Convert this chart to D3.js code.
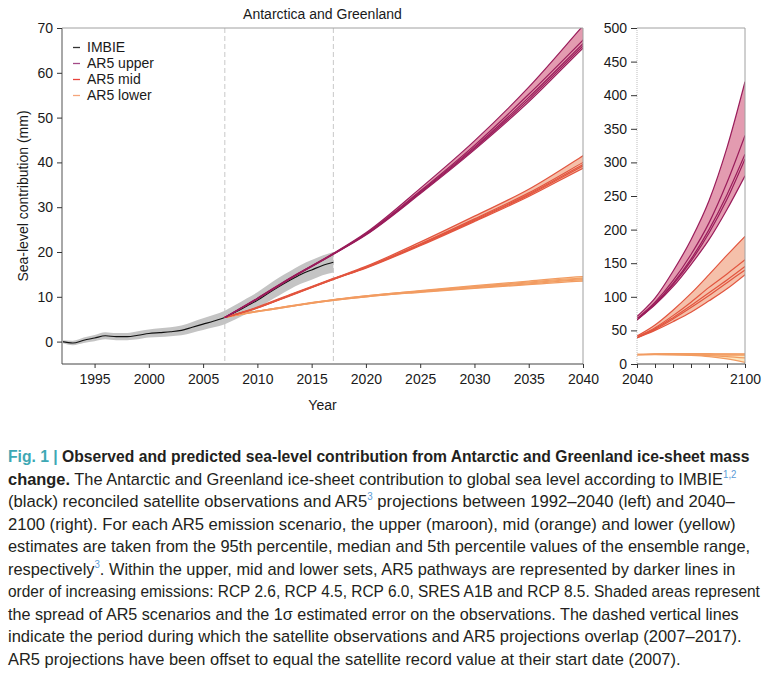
<!DOCTYPE html>
<html><head><meta charset="utf-8">
<script src="https://cdn.jsdelivr.net/npm/d3@7"></script>
<style>
body{margin:0;background:#fff;}
svg{display:block;font-family:"Liberation Sans",Arial,Helvetica,sans-serif;}
.cap{font-family:"Liberation Sans Narrow","Liberation Sans",Arial,sans-serif;font-size:17px;fill:#231f20;}
</style></head>
<body>
<svg id="c" width="769" height="678"></svg>
<script>
// ---------------- DATA ----------------
const imbieYears = d3.range(1992, 2018);
const imbieValues = [0, -0.3, 0.3, 0.8, 1.3, 1.1, 1.1, 1.4, 1.8, 2.0, 2.2, 2.5, 3.2, 3.9, 4.6, 5.4, 6.6, 7.9, 9.2, 10.8, 12.3, 13.7, 15.0, 16.0, 17.0, 17.7];
const imbieError = [0.3, 0.5, 0.6, 0.7, 0.8, 0.8, 0.8, 0.9, 0.9, 1.0, 1.0, 1.1, 1.2, 1.3, 1.4, 1.5, 1.6, 1.7, 1.8, 1.9, 2.0, 2.0, 2.1, 2.2, 2.2, 2.3];

const projYears = [2007, 2010, 2013, 2017, 2020, 2025, 2030, 2035, 2040, 2050, 2060, 2070, 2080, 2090, 2100];
const ar5Upper = [
  [5.4, 9.5, 14.0, 19.5, 23.8, 33.0, 42.8, 53.5, 65.5, 88, 115, 148, 185, 230, 280],
  [5.4, 9.5, 14.0, 19.5, 23.9, 33.2, 43.1, 54.0, 66.0, 89, 118, 153, 195, 245, 305],
  [5.4, 9.6, 14.1, 19.6, 24.0, 33.4, 43.4, 54.5, 66.5, 90, 120, 156, 200, 252, 312],
  [5.4, 9.6, 14.1, 19.6, 24.1, 33.6, 43.8, 55.2, 67.3, 92, 124, 163, 210, 270, 340],
  [5.4, 9.7, 14.2, 19.7, 24.3, 34.2, 44.8, 56.8, 70.5, 98, 138, 185, 243, 322, 420]
];
const ar5Mid = [
  [5.4, 7.5, 10.2, 13.9, 16.4, 21.4, 26.8, 32.4, 38.7, 50, 63, 77, 94, 112, 133],
  [5.4, 7.5, 10.3, 13.9, 16.5, 21.6, 27.0, 32.7, 39.2, 51.5, 67, 84, 102, 121, 140],
  [5.4, 7.6, 10.3, 14.0, 16.6, 21.7, 27.2, 32.9, 39.5, 52.5, 69, 87, 106, 125, 145],
  [5.4, 7.6, 10.4, 14.0, 16.6, 21.8, 27.4, 33.2, 40.0, 54, 72, 92, 114, 134, 155],
  [5.4, 7.7, 10.5, 14.1, 16.8, 22.2, 28.0, 34.0, 41.5, 58, 80, 105, 133, 162, 190]
];
const ar5Lower = [
  [5.4, 6.7, 7.8, 9.2, 10.0, 11.0, 11.9, 12.7, 13.5, 14.0, 13.7, 12.8, 11.0, 7.5, 2.5],
  [5.4, 6.7, 7.8, 9.2, 10.0, 11.1, 12.0, 12.9, 13.8, 14.2, 14.0, 13.4, 12.4, 11.0, 9.0],
  [5.4, 6.8, 7.9, 9.3, 10.1, 11.2, 12.2, 13.1, 14.0, 14.5, 14.6, 14.3, 13.8, 13.3, 13.0],
  [5.4, 6.8, 7.9, 9.3, 10.2, 11.3, 12.3, 13.3, 14.2, 14.8, 15.0, 15.0, 14.8, 14.6, 14.5],
  [5.4, 6.8, 8.0, 9.4, 10.2, 11.4, 12.5, 13.5, 14.5, 15.0, 15.3, 15.4, 15.3, 15.2, 15.0]
];
const leftYTicks = [0, 10, 20, 30, 40, 50, 60, 70];
const leftXTicks = [1995, 2000, 2005, 2010, 2015, 2020, 2025, 2030, 2035, 2040];
const rightYTicks = [0, 50, 100, 150, 200, 250, 300, 350, 400, 450, 500];
const rightXTicks = [2040, 2050, 2060, 2070, 2080, 2090, 2100];
const rightXLabels = [2040, 2100];
const overlapYears = [2007, 2017];
const legendLabels = ["IMBIE", "AR5 upper", "AR5 mid", "AR5 lower"];

// ---------------- STYLE ----------------
const sets = [
  {data: ar5Lower, fill: "#fde6bd", line: "#f29c62"},
  {data: ar5Mid, fill: "#f5c0aa", line: "#e2553f"},
  {data: ar5Upper, fill: "#e39bb0", line: "#9a1d5b"}
];
const legendColors = ["#333333", "#a44a87", "#e8433c", "#f5a57b"];

const svg = d3.select("#c");
const L = {x0: 62, x1: 583, y0: 28, y1: 364};
const R = {x0: 637, x1: 745, y0: 28, y1: 364};

const xL = d3.scaleLinear().domain([1992, 2040]).range([L.x0, L.x1]);
const yL = d3.scaleLinear().domain([-5, 70]).range([L.y1, L.y0]);
const xR = d3.scaleLinear().domain([2040, 2100]).range([R.x0, R.x1]);
const yR = d3.scaleLinear().domain([0, 500]).range([R.y1, R.y0]);

const defs = svg.append("defs");
defs.append("clipPath").attr("id", "clipL").append("rect")
  .attr("x", L.x0).attr("y", L.y0).attr("width", L.x1 - L.x0).attr("height", L.y1 - L.y0);
defs.append("clipPath").attr("id", "clipR").append("rect")
  .attr("x", R.x0).attr("y", R.y0).attr("width", R.x1 - R.x0).attr("height", R.y1 - R.y0);

function drawPanel(g, x, y) {
  sets.forEach(s => {
    const env = projYears.map((yr, i) => ({
      yr, lo: d3.min(s.data, d => d[i]), hi: d3.max(s.data, d => d[i])
    }));
    g.append("path").datum(env)
      .attr("d", d3.area().curve(d3.curveMonotoneX).x(d => x(d.yr)).y0(d => y(d.lo)).y1(d => y(d.hi)))
      .attr("fill", s.fill).attr("stroke", "none");
    s.data.forEach(series => {
      g.append("path").datum(series)
        .attr("d", d3.line().curve(d3.curveMonotoneX).x((d, i) => x(projYears[i])).y(d => y(d)))
        .attr("fill", "none").attr("stroke", s.line).attr("stroke-width", 1.2);
    });
  });
}

// ---------- left panel ----------
const gL = svg.append("g");
overlapYears.forEach(yr => {
  gL.append("line").attr("x1", xL(yr)).attr("x2", xL(yr)).attr("y1", L.y0).attr("y2", L.y1)
    .attr("stroke", "#c8c8c8").attr("stroke-dasharray", "5,3").attr("stroke-width", 1);
});
const pL = gL.append("g").attr("clip-path", "url(#clipL)");
const imbie = imbieYears.map((yr, i) => ({yr, v: imbieValues[i], e: imbieError[i]}));
pL.append("path").datum(imbie)
  .attr("d", d3.area().curve(d3.curveMonotoneX).x(d => xL(d.yr)).y0(d => yL(d.v - d.e)).y1(d => yL(d.v + d.e)))
  .attr("fill", "#c4c4c4");
pL.append("path").datum(imbie)
  .attr("d", d3.line().curve(d3.curveMonotoneX).x(d => xL(d.yr)).y(d => yL(d.v)))
  .attr("fill", "none").attr("stroke", "#111").attr("stroke-width", 1.1);
drawPanel(pL, xL, yL);

gL.append("path").attr("d", `M${L.x0},${L.y0}H${L.x1}V${L.y1}`)
  .attr("fill", "none").attr("stroke", "#a0a0a0").attr("stroke-width", 1);

const axL = gL.append("g").attr("transform", `translate(${L.x0},0)`)
  .call(d3.axisLeft(yL).tickValues(leftYTicks).tickSize(5).tickPadding(4).tickFormat(d3.format("d")));
const axB = gL.append("g").attr("transform", `translate(0,${L.y1})`)
  .call(d3.axisBottom(xL).tickValues(leftXTicks).tickSize(4).tickPadding(6).tickFormat(d3.format("d")));

// ---------- right panel ----------
const gR = svg.append("g");
const pR = gR.append("g").attr("clip-path", "url(#clipR)");
drawPanel(pR, xR, yR);
gR.append("path").attr("d", `M${R.x0},${R.y0}H${R.x1}V${R.y1}`)
  .attr("fill", "none").attr("stroke", "#a0a0a0").attr("stroke-width", 1);
const axR = gR.append("g").attr("transform", `translate(${R.x0},0)`)
  .call(d3.axisLeft(yR).tickValues(rightYTicks).tickSize(6).tickPadding(4).tickFormat(d3.format("d")));
const axRB = gR.append("g").attr("transform", `translate(0,${R.y1})`)
  .call(d3.axisBottom(xR).tickValues(rightXTicks).tickSize(4).tickPadding(6)
    .tickFormat(d => rightXLabels.includes(d) ? d3.format("d")(d) : ""));

[axL, axB, axR, axRB].forEach(a => {
  a.attr("font-family", null);
  a.selectAll("text").attr("font-size", 14).attr("fill", "#1a1a1a")
    .attr("font-family", '"Liberation Sans",Arial,sans-serif');
  a.selectAll(".tick line").attr("stroke", "#333");
});
axL.select(".domain").attr("stroke", "#a8a8a8").attr("stroke-width", 2).attr("d", `M0,${L.y0}V${L.y1}`);
axB.select(".domain").attr("stroke", "#444").attr("d", `M${L.x0},0H${L.x1}`);
axR.select(".domain").attr("stroke", "#bdbdbd").attr("stroke-dasharray", "1,1").attr("d", `M0,${R.y0}V${R.y1}`);
axRB.select(".domain").attr("stroke", "#444").attr("d", `M${R.x0},0H${R.x1}`);

// titles
svg.append("text").attr("x", (L.x0 + L.x1) / 2).attr("y", 19).attr("text-anchor", "middle")
  .attr("font-size", 14).attr("fill", "#1a1a1a").text("Antarctica and Greenland");
svg.append("text").attr("x", (L.x0 + L.x1) / 2).attr("y", 410).attr("text-anchor", "middle")
  .attr("font-size", 14).attr("fill", "#1a1a1a").text("Year");
svg.append("text").attr("transform", `translate(28,${(L.y0 + L.y1) / 2}) rotate(-90)`)
  .attr("text-anchor", "middle").attr("font-size", 14).attr("fill", "#1a1a1a")
  .text("Sea-level contribution (mm)");

// legend
const leg = svg.append("g");
legendLabels.forEach((lab, i) => {
  const by = 52 + i * 16;
  leg.append("line").attr("x1", 73).attr("x2", 80).attr("y1", by - 4.5).attr("y2", by - 4.5)
    .attr("stroke", legendColors[i]).attr("stroke-width", 1.3);
  leg.append("text").attr("x", 87).attr("y", by).attr("font-size", 14).attr("fill", "#1a1a1a").text(lab);
});

// ---------- caption ----------
const capLines = [
  {w: 742, parts: [{t: "Fig. 1 | ", b: 1, c: "#3ea8b4"}, {t: "Observed and predicted sea-level contribution from Antarctic and Greenland ice-sheet mass", b: 1}]},
  {w: 729, parts: [{t: "change.", b: 1}, {t: " The Antarctic and Greenland ice-sheet contribution to global sea level according to IMBIE"}, {t: "1,2", sup: 1}]},
  {w: 727, parts: [{t: "(black) reconciled satellite observations and AR5"}, {t: "3", sup: 1}, {t: " projections between 1992–2040 (left) and 2040–"}]},
  {w: 728, parts: [{t: "2100 (right). For each AR5 emission scenario, the upper (maroon), mid (orange) and lower (yellow)"}]},
  {w: 742, parts: [{t: "estimates are taken from the 95th percentile, median and 5th percentile values of the ensemble range,"}]},
  {w: 728, parts: [{t: "respectively"}, {t: "3", sup: 1}, {t: ". Within the upper, mid and lower sets, AR5 pathways are represented by darker lines in"}]},
  {w: 752, parts: [{t: "order of increasing emissions: RCP 2.6, RCP 4.5, RCP 6.0, SRES A1B and RCP 8.5. Shaded areas represent"}]},
  {w: 731, parts: [{t: "the spread of AR5 scenarios and the 1σ estimated error on the observations. The dashed vertical lines"}]},
  {w: 734, parts: [{t: "indicate the period during which the satellite observations and AR5 projections overlap (2007–2017)."}]},
  {w: 673, parts: [{t: "AR5 projections have been offset to equal the satellite record value at their start date (2007)."}]}
];
capLines.forEach((ln, i) => {
  const g = svg.append("g");
  const t = g.append("text").attr("class", "cap").attr("x", 0).attr("y", 0);
  ln.parts.forEach((p, j) => {
    const ts = t.append("tspan").text(p.t);
    if (p.b) ts.attr("font-weight", "bold");
    if (p.c) ts.attr("fill", p.c);
    if (p.sup) ts.attr("font-size", 10).attr("dy", -7).attr("fill", "#5b9bd5");
    else if (j > 0 && ln.parts[j - 1].sup) ts.attr("dy", 7);
  });
  const natural = t.node().getComputedTextLength();
  const sx = ln.w / natural;
  g.attr("transform", `translate(8,${462 + i * 22.5}) scale(${sx},1)`);
});
</script>
</body></html>
